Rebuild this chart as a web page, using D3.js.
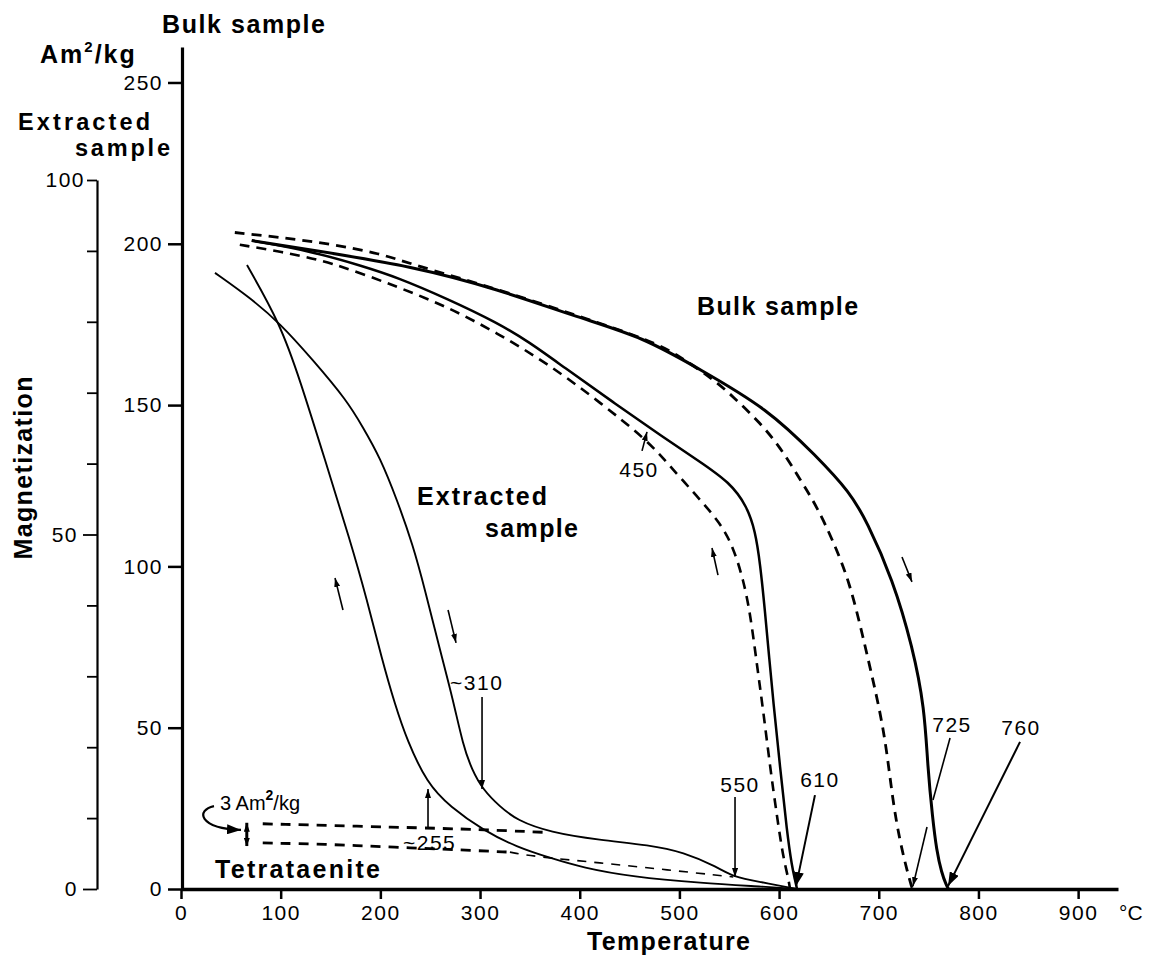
<!DOCTYPE html>
<html><head><meta charset="utf-8">
<script src="https://cdn.jsdelivr.net/npm/d3@7"></script>
<style>
body{margin:0;background:#fff;}
svg{display:block;font-family:"Liberation Sans",Arial,Helvetica,sans-serif;}
</style></head><body>
<svg id="chart" width="1149" height="961"></svg>
<script>
// ---------------- DATA ----------------
const xTicks = [0,100,200,300,400,500,600,700,800,900];
const bulkTicks = [0,50,100,150,200,250];
const extTicks = [0,10,20,30,40,50,60,70,80,90,100];
const extLabelTicks = [0,50,100];

// Bulk sample, magnetization (Am2/kg) vs temperature (°C)
const bulkHeatingTo760 = [[71,201],[132,198],[233,193],[317,186],[400,177],[464,171],[521,161],[588,149],[638,134],[671,123],[688,114],[714,96],[734,75],[746,56],[749,38],[754,22],[758,12],[763,5],[768,1],[770,0]];
const bulkCoolingFrom725 = [[54,203.5],[99,202],[149,200],[200,197],[233,193.5],[317,186],[400,177.5],[471,170],[498,165.6],[534,158],[554,152.6],[581,144.5],[601,137],[621,127],[638,118.5],[654,108],[671,95],[685,77],[691,69],[701,55.5],[708,43],[714,27.6],[721,15],[729,5],[733,0.6],[734,0]];
const bulkHeatingTo610 = [[71,201],[132,197.6],[183,193],[217,189.6],[267,183],[317,175.6],[350,169.4],[383,162],[433,151],[484,140],[518,133],[551,126],[568,118.5],[576,111],[581,101],[586,85.6],[590,72],[594,58.6],[601,37.8],[608,17.4],[613,6.8],[616,2.8],[618,0]];
const bulkCoolingFrom610 = [[59,199.7],[99,197.6],[149,194.5],[217,186.7],[267,180.5],[317,172.4],[367,163],[417,151.7],[468,139],[488,132],[518,121.6],[541,113.5],[554,106],[564,96],[571,85.6],[578,69],[584,55.5],[591,37.8],[598,22.3],[604,10],[609,3.7],[611,0]];

// Extracted sample (Am2/kg)
const extHeating = [[34.1,86.9],[69.2,83.4],[99.3,79.8],[132.4,74.6],[166.5,68.9],[182.6,65.1],[199.6,60.9],[216.7,54.9],[232.7,48.5],[244.8,42.2],[259.8,33.7],[272.9,26.7],[282.9,20.3],[291.9,16.8],[303,14.0],[320,11.6],[337,9.7],[370,8],[420,6.9],[470,6.2],[504,5.2],[538,3.1],[554,1.7],[581,1.0],[618,0]];
const extCooling = [[66.2,88],[99.3,79.8],[119.4,71.8],[144.5,60.5],[169.6,49.2],[186.6,40.8],[201.6,32.4],[214.7,26.0],[226.7,21.0],[246.8,14.9],[269.9,11.6],[303,8.3],[337,5.9],[370,4.4],[403,3],[453,1.7],[521,0.85],[588,0.3],[618,0]];
const tetraUpper = [[82,9.2],[220,8.7],[300,8.4],[363,8.0]];
const tetraLowerA = [[82,6.5],[150,6.3],[213,5.9],[283,5.5],[330,5.2]];
const tetraLowerB = [[330,5.2],[353,4.6],[420,3.7],[488,2.7],[554,1.7]];

// Annotations (temperature, bulk-scale magnetization)
const numberLabels = [
  {text:"~310", t:269.9, m:61.7, anchor:"start"},
  {text:"~255", t:222.7, m:12.1, anchor:"start"},
  {text:"550", t:560.8, m:30.1, anchor:"middle"},
  {text:"610", t:641, m:31.6, anchor:"middle"},
  {text:"725", t:773.5, m:48.7, anchor:"middle"},
  {text:"760", t:842.7, m:47.7, anchor:"middle"},
  {text:"450", t:459.5, m:127.7, anchor:"middle"}
];
const pointerArrows = [
  {from:[302,59.5], to:[302,31.0], head:"s"},
  {from:[247.8,18.9], to:[247.8,31.0], head:"s"},
  {from:[555.8,28.5], to:[555.8,3.7], head:"s"},
  {from:[636,29.1], to:[617,0.9], head:"L"},
  {from:[771.5,46.8], to:[754.4,27.6], head:null},
  {from:[748.4,19.2], to:[734.3,0.9], head:"s"},
  {from:[841.7,45.6], to:[769.5,0.9], head:"L"},
  {from:[462.5,135.8], to:[467.5,141.7], head:"s"},
  {from:[162.5,86.5], to:[154.5,96.4], head:"s"},
  {from:[267.9,86.5], to:[275.9,76.3], head:"s"},
  {from:[538.7,97.3], to:[532.7,105.7], head:"s"},
  {from:[723.3,102.9], to:[733.3,95.2], head:"s"}
];
const boldLabels = [
  {text:"Bulk sample", t:517.7, m:177.9, len:161},
  {text:"Extracted", t:236.8, m:119.0, len:130},
  {text:"sample", t:305, m:109.1, len:93},
  {text:"Tetrataenite", t:34.1, m:3.4, len:165}
];

// ---------------- CHART ----------------
const svg = d3.select("#chart");
const x = d3.scaleLinear().domain([0,940]).range([181,1118]);
const yB = d3.scaleLinear().domain([0,261]).range([889,47]);
const yE = d3.scaleLinear().domain([0,100]).range([889,180]);

const defs = svg.append("defs");
function marker(id, w, h){
  defs.append("marker").attr("id",id).attr("viewBox",`0 0 ${w} ${h}`)
    .attr("refX",w).attr("refY",h/2).attr("markerWidth",w).attr("markerHeight",h)
    .attr("markerUnits","userSpaceOnUse").attr("orient","auto")
    .append("path").attr("d",`M0,0L${w},${h/2}L0,${h}Z`).attr("fill","#000");
}
marker("hs",9,6);
marker("hL",14,10);
defs.append("marker").attr("id","hsStart").attr("viewBox","0 0 8 6")
  .attr("refX",0).attr("refY",3).attr("markerWidth",8).attr("markerHeight",6)
  .attr("markerUnits","userSpaceOnUse").attr("orient","auto")
  .append("path").attr("d","M8,0L0,3L8,6Z").attr("fill","#000");

// Axes
const gx = svg.append("g").attr("transform",`translate(0,${yB(0)})`)
  .call(d3.axisBottom(x).tickValues(xTicks).tickSize(10).tickSizeOuter(0).tickPadding(6));
gx.select(".domain").attr("stroke-width",3.5);
gx.selectAll(".tick line").attr("stroke-width",2.5);
gx.selectAll(".tick text").attr("font-size",21).attr("letter-spacing","1.5px").attr("fill","#000");

const gb = svg.append("g").attr("transform",`translate(${x(0)+1},0)`)
  .call(d3.axisLeft(yB).tickValues(bulkTicks).tickSize(14).tickSizeOuter(0).tickPadding(5));
gb.select(".domain").attr("stroke-width",3.2);
gb.selectAll(".tick line").attr("stroke-width",2.5);
gb.selectAll(".tick text").attr("font-size",21).attr("letter-spacing","1.5px").attr("fill","#000");

const ge = svg.append("g").attr("transform","translate(97,0)")
  .call(d3.axisLeft(yE).tickValues(extTicks).tickSize(10).tickSizeOuter(0).tickPadding(4)
    .tickFormat(d => extLabelTicks.includes(d) ? d : ""));
ge.select(".domain").attr("stroke-width",2.2);
ge.selectAll(".tick line").attr("stroke-width",1.8)
  .attr("x2", d => extLabelTicks.includes(d) && d!==100 ? -14 : -10);
ge.selectAll(".tick text").attr("font-size",21).attr("letter-spacing","1.5px").attr("fill","#000")
  .attr("x", d => d===50 ? -19 : (d===0 ? -19 : -12));

// Axis titles
function boldText(txt, px, py, len, size){
  const t = svg.append("text").attr("x",px).attr("y",py).attr("font-size",size||25)
    .attr("font-weight","bold").attr("fill","#000").text(txt);
  if(len) t.attr("textLength",len).attr("lengthAdjust","spacing");
  return t;
}
boldText("Bulk sample",162,33,163);
const am = svg.append("text").attr("x",40).attr("y",63).attr("font-size",25).attr("font-weight","bold")
  .attr("letter-spacing","2px");
am.append("tspan").text("Am");
am.append("tspan").attr("dy",-11).attr("font-size",15).text("2");
am.append("tspan").attr("dy",11).text("/kg");
boldText("Extracted",18,130,132,23.5);
boldText("sample",75,156,95,23.5);
svg.append("text").attr("transform","translate(32,468) rotate(-90)").attr("text-anchor","middle")
  .attr("font-size",25).attr("font-weight","bold").attr("textLength",183).attr("lengthAdjust","spacing")
  .text("Magnetization");
boldText("Temperature",587,950,163);
svg.append("text").attr("x",1119).attr("y",920).attr("font-size",21).text("°C");

// Curves
const lineB = d3.line().x(d=>x(d[0])).y(d=>yB(d[1])).curve(d3.curveBasis);
const lineE = d3.line().x(d=>x(d[0])).y(d=>yE(d[1])).curve(d3.curveBasis);
function curve(data, gen, w, dash){
  const p = svg.append("path").attr("d",gen(data)).attr("fill","none").attr("stroke","#000")
    .attr("stroke-width",w).attr("stroke-linejoin","round");
  if(dash) p.attr("stroke-dasharray",dash);
  return p;
}
curve(bulkCoolingFrom725, lineB, 2.8, "10,7");
curve(bulkCoolingFrom610, lineB, 2.6, "10,7");
curve(bulkHeatingTo760, lineB, 3.0);
curve(bulkHeatingTo610, lineB, 2.5);
curve(extHeating, lineE, 1.9);
curve(extCooling, lineE, 1.9);
curve(tetraUpper, lineE, 2.8, "10,8");
curve(tetraLowerA, lineE, 2.8, "10,8");
curve(tetraLowerB, lineE, 1.6, "9,8");

// Number labels and arrows
numberLabels.forEach(a=>{
  svg.append("text").attr("x",x(a.t)).attr("y",yB(a.m)).attr("text-anchor",a.anchor)
    .attr("font-size",21).attr("letter-spacing","1.5px").text(a.text);
});
pointerArrows.forEach(a=>{
  const l = svg.append("line").attr("x1",x(a.from[0])).attr("y1",yB(a.from[1]))
    .attr("x2",x(a.to[0])).attr("y2",yB(a.to[1])).attr("stroke","#000")
    .attr("stroke-width", a.head==="L" ? 2 : 1.6);
  if(a.head) l.attr("marker-end", a.head==="L" ? "url(#hL)" : "url(#hs)");
});
boldLabels.forEach(b=>{
  svg.append("text").attr("x",x(b.t)).attr("y",yB(b.m)).attr("font-size",25)
    .attr("font-weight","bold").attr("textLength",b.len).attr("lengthAdjust","spacing").text(b.text);
});

// 3 Am2/kg scale bar
svg.append("line").attr("x1",x(66)).attr("x2",x(66)).attr("y1",yE(6.2)+1).attr("y2",yE(9.2)-1)
  .attr("stroke","#000").attr("stroke-width",3)
  .attr("marker-end","url(#hs)").attr("marker-start","url(#hsStart)");
const cp = [[33.1,25.7],[15,24.5],[17,18.9],[60.2,18.3]].map(p=>[x(p[0]),yB(p[1])]);
svg.append("path").attr("d",`M${cp[0]}C${cp[1]} ${cp[2]} ${cp[3]}`).attr("fill","none")
  .attr("stroke","#000").attr("stroke-width",2.2).attr("marker-end","url(#hL)");
const sc = svg.append("text").attr("x",x(39.1)).attr("y",yB(24.5)).attr("font-size",20);
sc.append("tspan").text("3 Am");
sc.append("tspan").attr("dy",-10).attr("font-size",14).attr("font-weight","bold").text("2");
sc.append("tspan").attr("dy",10).text("/kg");
</script>
</body></html>
